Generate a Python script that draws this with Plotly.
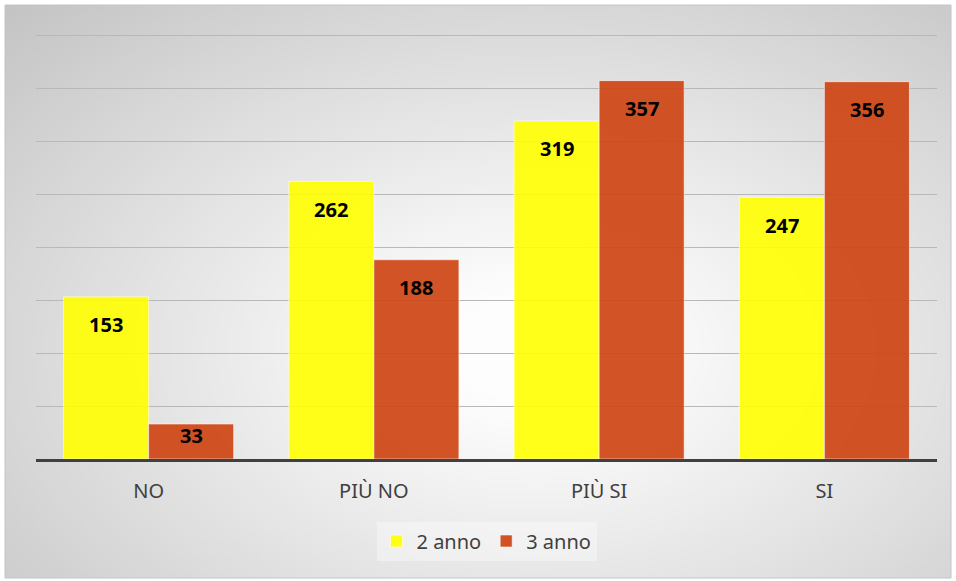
import base64, struct, zlib
import numpy as np
import plotly.graph_objects as go

categories = ["NO", "PIÙ NO", "PIÙ SI", "SI"]
series_names = ["2 anno", "3 anno"]
values_2anno = [153, 262, 319, 247]
values_3anno = [33, 188, 357, 356]

W, H = 956, 581
L, R, T, B = 36, 19, 34, 122
PW, PH = W - L - R, H - T - B
YMAX = 401


def gray_png(arr):
    h, w = arr.shape
    raw = b"".join(b"\x00" + arr[i].astype(np.uint8).tobytes() for i in range(h))

    def chunk(tag, data):
        c = struct.pack(">I", len(data)) + tag + data
        return c + struct.pack(">I", zlib.crc32(tag + data) & 0xFFFFFFFF)

    png = b"\x89PNG\r\n\x1a\n"
    png += chunk(b"IHDR", struct.pack(">IIBBBBB", w, h, 8, 0, 0, 0, 0))
    png += chunk(b"IDAT", zlib.compress(raw, 9))
    png += chunk(b"IEND", b"")
    return "data:image/png;base64," + base64.b64encode(png).decode()


# background radial gradient (chart area)
cx0, cy0, cw, ch = 5, 5, 946, 573
gw, gh = 237, 144
xs = (np.arange(gw) + 0.5) / gw
ys = (np.arange(gh) + 0.5) / gh
X, Y = np.meshgrid(xs, ys)
dx = (X - 0.56) / 0.56
dy = (Y - 0.6) / 0.6
r = np.sqrt(dx ** 2 + dy ** 2) / np.sqrt(2)
t = np.clip((r - 0.12) / 0.88, 0, 1)
img = 253 - (253 - 196) * t ** 1.05
src = gray_png(img)


def px_x(p):
    return (p - L) / PW


def px_y(p):
    return (H - B - p) / PH


fig = go.Figure()
colors = ["rgba(255,255,0,0.9)", "rgba(205,68,20,0.92)"]
for name, vals, col in zip(series_names, [values_2anno, values_3anno], colors):
    fig.add_trace(go.Bar(
        name=name, x=categories, y=vals,
        marker=dict(color=col, line=dict(color="rgba(255,255,255,0.55)", width=1)),
        hoverinfo="skip",
    ))

bar_px = PW / len(categories) * 0.755 / 2
unit_px = PH / YMAX
annotations = []
for k, vals in enumerate([values_2anno, values_3anno]):
    for c, v in zip(categories, vals):
        shift = -28 if v * unit_px > 60 else -11
        annotations.append(dict(
            x=c, y=v, xref="x", yref="y", text=str(v), showarrow=False,
            xshift=(k - 0.5) * bar_px, yshift=shift,
            font=dict(family="Noto Sans", size=20, color="#000000", weight="bold"),
        ))

fig.update_layout(
    width=W, height=H,
    margin=dict(l=L, r=R, t=T, b=B),
    paper_bgcolor="white",
    plot_bgcolor="rgba(0,0,0,0)",
    barmode="group", bargap=0.245, bargroupgap=0,
    font=dict(family="Noto Sans", color="#404040"),
    images=[dict(source=src, xref="paper", yref="paper",
                 x=px_x(cx0), y=px_y(cy0), sizex=cw / PW, sizey=ch / PH,
                 xanchor="left", yanchor="top", sizing="stretch", layer="below")],
    shapes=[dict(type="rect", xref="paper", yref="paper",
                 x0=px_x(cx0), x1=px_x(cx0 + cw), y0=px_y(cy0 + ch), y1=px_y(cy0),
                 line=dict(color="#c4c4c4", width=1), layer="below")],
    annotations=annotations,
    xaxis=dict(showline=True, linecolor="#404040", linewidth=3,
               ticks="outside", ticklen=12, tickcolor="rgba(0,0,0,0)",
               tickfont=dict(size=20, color="#404040"), showgrid=False),
    yaxis=dict(range=[0, YMAX], tickvals=[50, 100, 150, 200, 250, 300, 350, 400],
               showticklabels=False,
               gridcolor="#b8b8b8", gridwidth=1, zeroline=False),
    legend=dict(orientation="h", x=0.5, xanchor="center", y=px_y(541), yanchor="middle",
                bgcolor="rgba(255,255,255,0.35)", font=dict(size=20, color="#404040"),
                itemwidth=30),
    showlegend=True,
)

fig.write_html("out.html", config={"displayModeBar": False},
               post_script="document.body.style.margin='0';")
